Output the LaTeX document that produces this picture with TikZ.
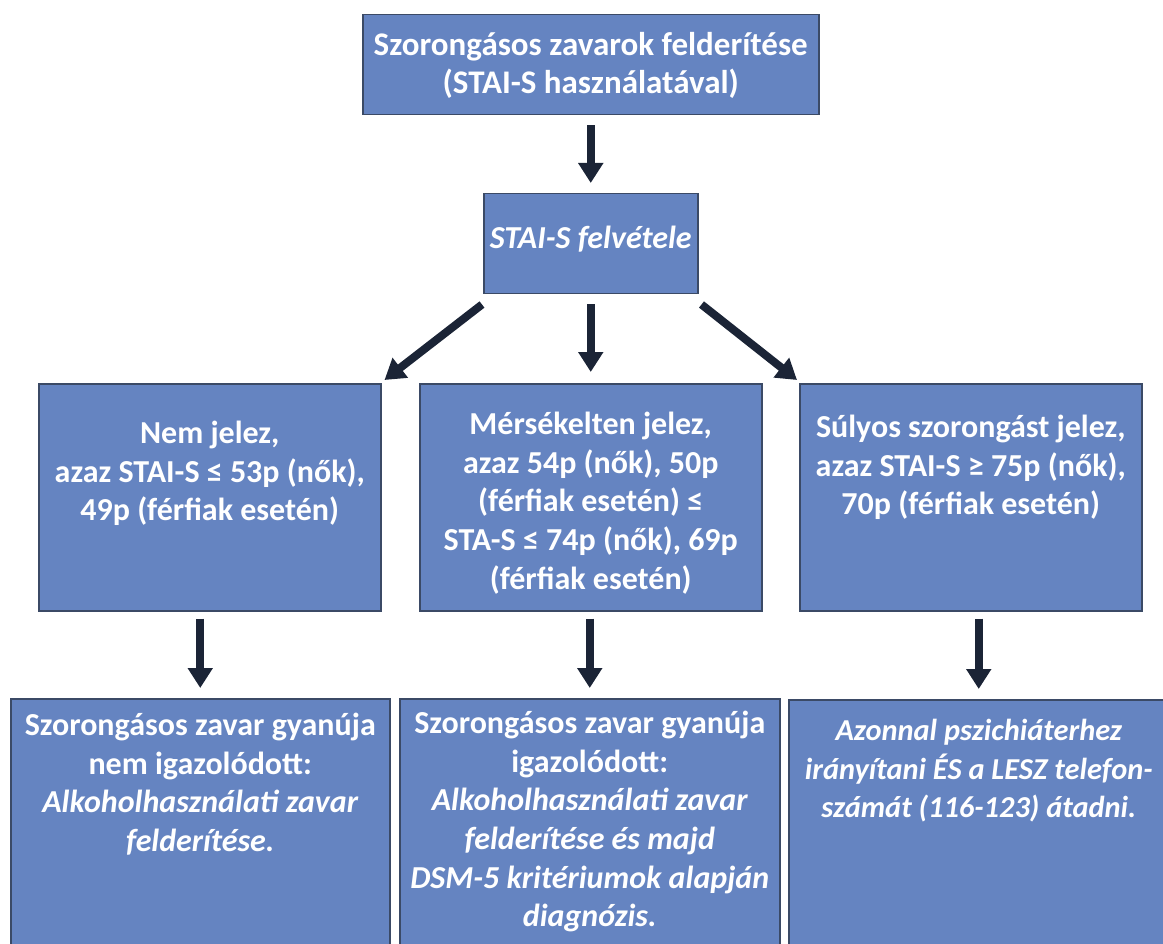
\documentclass[tikz,border=0pt]{standalone}
\usepackage{fontspec}
\setmainfont{Carlito}
\usetikzlibrary{arrows.meta,calc}

\definecolor{boxfill}{HTML}{6584C1}
\definecolor{boxline}{HTML}{3B4A66}
\definecolor{arrowcol}{HTML}{1B2436}

% box content: width, height, first-baseline depth, text (top aligned)
\newcommand{\flowtext}[4]{\parbox[c][#2][t]{#1}{\centering\rule{0pt}{#3}#4}}

\tikzset{
  flowbox/.style={draw=boxline, line width=1.5pt, fill=boxfill, text=white,
    inner sep=0pt, anchor=north west,
    font=\bfseries\fontsize{32}{38.6}\selectfont},
  flowarrow/.style={draw=arrowcol, line width=8pt,
    -{Triangle[width=24pt,length=20pt]}}
}

\begin{document}
\begin{tikzpicture}[x=1pt,y=-1pt]
\useasboundingbox (0,0) rectangle (1163,944);
\clip (0,0) rectangle (1163,944);

% top row
\node[flowbox, font=\bfseries\fontsize{33}{37.5}\selectfont] (start) at (362,14)
  {\flowtext{456pt}{100pt}{41pt}{Szorongásos zavarok felderítése\\(STAI-S használatával)}};
\node[flowbox] (survey) at (483,193)
  {\flowtext{214pt}{100pt}{55pt}{\itshape STAI-S felvétele}};

% score ranges
\node[flowbox] (low) at (38,383)
  {\flowtext{342pt}{227pt}{60pt}{Nem jelez,\\azaz STAI-S ≤ 53p (nők),\\49p (férfiak esetén)}};
\node[flowbox] (mid) at (419,383)
  {\flowtext{342pt}{227pt}{51pt}{Mérsékelten jelez,\\azaz 54p (nők), 50p\\(férfiak esetén) ≤\\STA-S ≤ 74p (nők), 69p\\(férfiak esetén)}};
\node[flowbox] (high) at (799,383)
  {\flowtext{342pt}{227pt}{54pt}{Súlyos szorongást jelez,\\azaz STAI-S ≥ 75p (nők),\\70p (férfiak esetén)}};

% outcomes
\node[flowbox] (outlow) at (10,698)
  {\flowtext{379pt}{270pt}{37pt}{Szorongásos zavar gyanúja\\nem igazolódott:\\{\itshape Alkoholhasználati zavar\\felderítése.}}};
\node[flowbox] (outmid) at (399,698)
  {\flowtext{380pt}{270pt}{35pt}{Szorongásos zavar gyanúja\\igazolódott:\\{\itshape Alkoholhasználati zavar\\felderítése és majd\\DSM-5 kritériumok alapján\\diagnózis.}}};
\node[flowbox, font=\bfseries\fontsize{30.4}{38.6}\selectfont] (outhigh) at (788,699)
  {\flowtext{380pt}{270pt}{41pt}{\itshape \makebox[0pt]{Azonnal pszichiáterhez}\\\makebox[0pt]{irányítani ÉS a LESZ telefon-}\\\makebox[0pt]{számát (116-123) átadni.}}};

% connectors
\draw[flowarrow] ($(start.south)+(0,10)$) -- ($(survey.north)+(0,-10)$);
\draw[flowarrow] ($(survey.south)+(0,10)$) -- ($(mid.north)+(0,-11)$);
\draw[flowarrow] ($(survey.south west)+(-1,10)$) -- ($(low.north east)+(3,-3)$);
\draw[flowarrow] ($(survey.south east)+(3,10)$) -- ($(high.north west)+(-2,-3)$);
\draw[flowarrow] ($(low.south -| outlow.north)+(0,7)$) -- ($(outlow.north)+(0,-10)$);
\draw[flowarrow] ($(mid.south -| outmid.north)+(0,7)$) -- ($(outmid.north)+(0,-10)$);
\draw[flowarrow] ($(high.south -| outhigh.north)+(0,7)$) -- ($(outhigh.north)+(0,-10)$);
\end{tikzpicture}
\end{document}
